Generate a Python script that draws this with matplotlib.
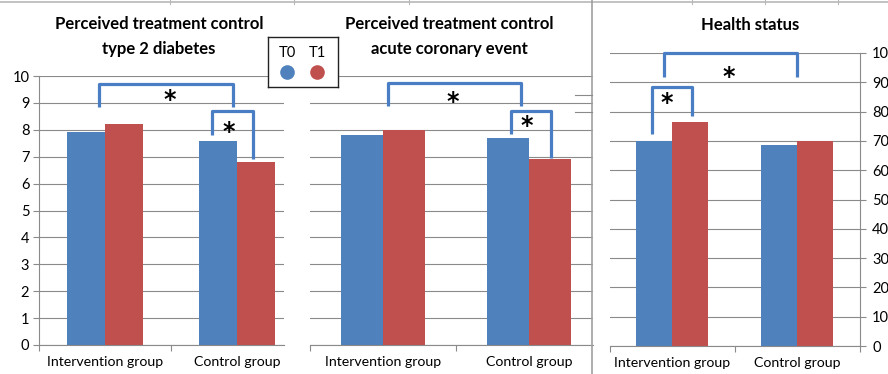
import matplotlib
matplotlib.use("Agg")
import matplotlib.pyplot as plt
from matplotlib.lines import Line2D

plt.rcParams["font.family"] = ["Lato", "DejaVu Sans"]

groups = ["Intervention group", "Control group"]
series = ["T0", "T1"]

diabetes_t0 = [7.9, 7.6]
diabetes_t1 = [8.2, 6.8]
coronary_t0 = [7.8, 7.7]
coronary_t1 = [8.0, 6.9]
health_t0 = [70, 68.5]
health_t1 = [76.5, 70]

BLUE = "#4f81bd"
RED = "#c0504d"
BRACKET = "#4a7ec4"
GRID = "#8a8a8a"
W, H = 888, 374
BAR_W = 0.29


def fx(px):
    return px / W


def fy(py):
    return 1 - py / H


def bars(ax, t0, t1):
    x = range(len(groups))
    ax.bar([i - BAR_W / 2 for i in x], t0, BAR_W, color=BLUE, zorder=2)
    ax.bar([i + BAR_W / 2 for i in x], t1, BAR_W, color=RED, zorder=2)
    ax.set_xticks(list(x))
    ax.set_xticklabels(groups, fontsize=10.2)
    ax.set_xticks([-0.5, 0.5, 1.5], minor=True)
    ax.tick_params(axis="x", which="major", length=0, pad=8)
    ax.tick_params(axis="x", which="minor", length=4, color=GRID, width=0.8)
    ax.grid(axis="y", color=GRID, lw=0.8, zorder=0)
    ax.set_axisbelow(True)
    for s in ["top", "right", "left"]:
        ax.spines[s].set_visible(False)
    ax.spines["bottom"].set_color(GRID)
    ax.spines["bottom"].set_linewidth(0.8)


def bracket(ax, xl, xr, yl, yr, ytop, star):
    ax.plot([xl, xl, xr, xr], [yl, ytop, ytop, yr], color=BRACKET, lw=2.3,
            solid_joinstyle="round", solid_capstyle="butt", zorder=3, clip_on=False)
    ax.text(star[0], star[1], "*", fontsize=17, fontweight="bold", ha="center",
            va="center", family="DejaVu Sans", zorder=4)


fig = plt.figure(figsize=(W / 100, H / 100), dpi=100)

# left panel
ax1 = fig.add_axes([fx(39), fy(345), fx(245), (345 - 76) / H])
bars(ax1, diabetes_t0, diabetes_t1)
ax1.set_xlim(-0.5, 1.356)
ax1.set_ylim(0, 10)
ax1.set_yticks(range(0, 11))
ax1.spines["left"].set_visible(True)
ax1.spines["left"].set_color(GRID)
ax1.spines["left"].set_linewidth(0.8)
ax1.tick_params(axis="y", length=4, color=GRID, width=0.8, labelsize=10.5, pad=3)
bracket(ax1, -0.045, 0.97, 8.85, 8.85, 9.72, (0.49, 9.1))
bracket(ax1, 0.81, 1.12, 7.8, 6.9, 8.7, (0.94, 7.9))

# middle panel
ax2 = fig.add_axes([fx(310), fy(345), fx(283), (345 - 76) / H])
bars(ax2, coronary_t0, coronary_t1)
ax2.set_xlim(-0.5, 1.438)
ax2.set_ylim(0, 10)
ax2.set_yticks(range(0, 11))
ax2.tick_params(axis="y", length=0, labelleft=False)
bracket(ax2, 0.034, 0.945, 8.9, 8.9, 9.75, (0.48, 9.05))
bracket(ax2, 0.877, 1.15, 7.85, 6.95, 8.7, (0.986, 8.15))

# right panel
ax3 = fig.add_axes([fx(609.5), fy(346), fx(250), (346 - 53) / H])
bars(ax3, health_t0, health_t1)
ax3.set_xlim(-0.5, 1.5)
ax3.set_ylim(0, 100)
ax3.set_yticks(range(0, 101, 10))
ax3.spines["right"].set_visible(True)
ax3.spines["right"].set_color(GRID)
ax3.spines["right"].set_linewidth(0.8)
ax3.yaxis.tick_right()
ax3.tick_params(axis="y", length=4, color=GRID, width=0.8, labelsize=10.5, pad=5)
for lab in ax3.get_yticklabels():
    lab.set_ha("left")
bracket(ax3, -0.064, 1.0, 91.8, 91.8, 100, (0.456, 91.8))
bracket(ax3, -0.16, 0.16, 72.4, 78.5, 88.4, (-0.04, 82.8))

# titles
tkw = dict(fontsize=12, fontweight="bold", ha="center", va="center")
fig.text(fx(159), fy(24), "Perceived treatment control", **tkw)
fig.text(fx(159), fy(49), "type 2 diabetes", **tkw)
fig.text(fx(449), fy(24), "Perceived treatment control", **tkw)
fig.text(fx(449), fy(49), "acute coronary event", **tkw)
fig.text(fx(750), fy(25), "Health status", **tkw)

# legend box
lg = fig.add_axes([fx(268), fy(87), fx(70), (87 - 37) / H])
lg.set_xlim(0, 70)
lg.set_ylim(50, 0)
lg.set_xticks([])
lg.set_yticks([])
for s in lg.spines.values():
    s.set_color("#222222")
    s.set_linewidth(1.0)
for i, (name, col) in enumerate(zip(series, [BLUE, RED])):
    lg.text(19 + 30 * i, 16, name, fontsize=10.5, ha="center", va="center")
    lg.plot(19 + 30 * i, 35, "o", ms=9.5, color=col)

# sheet grid lines around the charts
sheet = "#b8b8b8"
fig.add_artist(Line2D([0, 1], [fy(1.5), fy(1.5)], color=sheet, lw=1.2))
for px in [170, 294, 409, 692, 765, 838]:
    fig.add_artist(Line2D([fx(px), fx(px)], [fy(0), fy(4)], color=sheet, lw=0.8))
fig.add_artist(Line2D([fx(592), fx(592)], [fy(0), 0], color="#a0a0a0", lw=1.2))
for py in [95, 112]:
    fig.add_artist(Line2D([fx(575), fx(592)], [fy(py), fy(py)], color=GRID, lw=0.8))

fig.savefig("out.png", dpi=100)
